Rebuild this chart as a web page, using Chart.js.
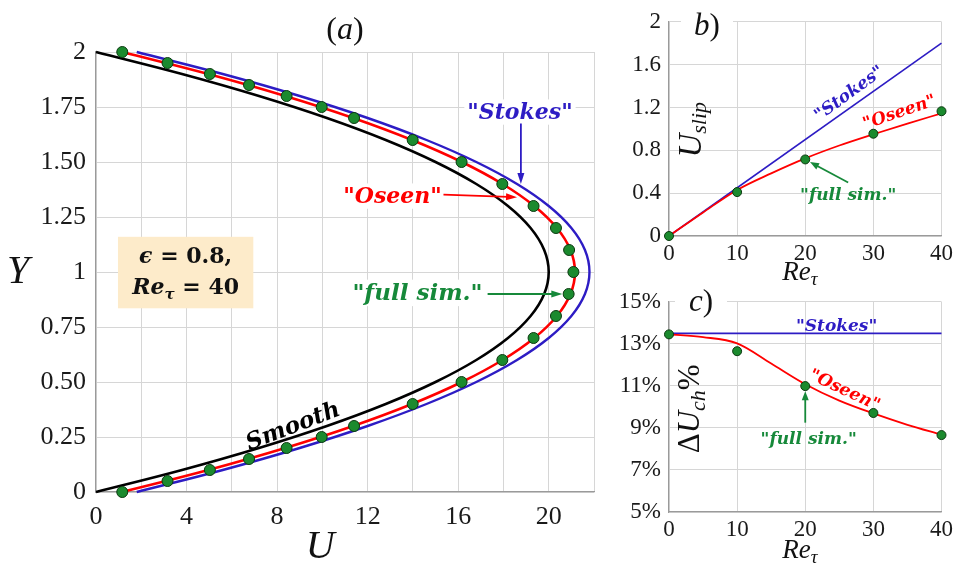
<!DOCTYPE html>
<html>
<head>
<meta charset="utf-8">
<title>Channel flow over a slippery wall: velocity profiles, slip velocity and flow-rate change</title>
<script src="https://cdn.jsdelivr.net/npm/chart.js@4/dist/chart.umd.min.js"></script>
<style>
  html, body { margin: 0; padding: 0; background: #ffffff; }
  #figure { position: relative; width: 957px; height: 566px; overflow: hidden; }
  #figure canvas { position: absolute; }
</style>
</head>
<body>
<div id="figure">
  <canvas id="panelA" width="620" height="566" style="left:0;top:0"></canvas>
  <canvas id="panelB" width="337" height="300" style="left:620px;top:0"></canvas>
  <canvas id="panelC" width="337" height="286" style="left:620px;top:280px"></canvas>
</div>
<script>
// ---------- panel (a): velocity profiles U(Y) across the channel ----------
const yProfile = [0, 0.1, 0.2, 0.3, 0.4, 0.5, 0.6, 0.7, 0.8, 0.9, 1.0,
                  1.1, 1.2, 1.3, 1.4, 1.5, 1.6, 1.7, 1.8, 1.9, 2.0];
const uSmooth  = [0, 3.8, 7.2, 10.2, 12.8, 15.0, 16.8, 18.2, 19.2, 19.8, 20.0,
                  19.8, 19.2, 18.2, 16.8, 15.0, 12.8, 10.2, 7.2, 3.8, 0];
const uOseen   = [1.16, 4.96, 8.36, 11.36, 13.96, 16.16, 17.96, 19.36, 20.36, 20.96, 21.16,
                  20.96, 20.36, 19.36, 17.96, 16.16, 13.96, 11.36, 8.36, 4.96, 1.16];
const uStokes  = [1.8, 5.6, 9.0, 12.0, 14.6, 16.8, 18.6, 20.0, 21.0, 21.6, 21.8,
                  21.6, 21.0, 20.0, 18.6, 16.8, 14.6, 12.0, 9.0, 5.6, 1.8];
const ySim     = [0, 0.05, 0.1, 0.15, 0.2, 0.25, 0.3, 0.4, 0.5, 0.6, 0.7, 0.8, 0.9, 1.0,
                  1.1, 1.2, 1.3, 1.4, 1.5, 1.6, 1.7, 1.75, 1.8, 1.85, 1.9, 1.95, 2.0];
const uSim     = [1.16, 3.16, 5.03, 6.76, 8.42, 9.97, 11.40, 13.99, 16.15, 17.95, 19.33, 20.32, 20.88, 21.09,
                  20.90, 20.32, 19.33, 17.95, 16.15, 13.99, 11.40, 9.97, 8.42, 6.76, 5.03, 3.16, 1.16];
const uTickLabels = ['0', '', '4', '', '8', '', '12', '', '16', '', '20', ''];
const yTickLabels = ['0', '0.25', '0.50', '0.75', '1', '1.25', '1.50', '1.75', '2'];

// ---------- panel (b): slip velocity vs Re_tau ----------
const reSim       = [0, 10, 20, 30, 40];
const slipSim     = [0, 0.41, 0.715, 0.955, 1.165];
const reCurve     = [0, 5, 10, 15, 20, 25, 30, 35, 40];
const slipOseen   = [0, 0.22, 0.43, 0.585, 0.725, 0.845, 0.95, 1.05, 1.145];
const reStokes    = [0, 40];
const slipStokes  = [0, 1.8];
const slipTickLabels = ['0', '0.4', '0.8', '1.2', '1.6', '2'];
const reTickLabels   = ['0', '10', '20', '30', '40'];

// ---------- panel (c): change of flow rate (%) vs Re_tau ----------
const dUSim      = [13.45, 12.65, 10.99, 9.71, 8.66];
const dUOseen    = [13.45, 13.32, 13.02, 12.06, 11.08, 10.3, 9.69, 9.15, 8.68];
const dUStokes   = [13.5, 13.5];
const dUTickLabels = ['5%', '7%', '9%', '11%', '13%', '15%'];

// ---------- styling ----------
const GRID = '#d6d6d6';
const AXIS = '#9a9a9a';
const BLUE = '#2d1cc4';
const RED = '#ff0000';
const GREEN = '#16893a';
const DOT_FILL = '#1b8a2e';
const DOT_EDGE = '#0b3a10';
const TICK_FAMILY = '"Liberation Serif", serif';
const NOTE_FAMILY = '"DejaVu Serif", serif';
const MATH_FAMILY = '"Liberation Serif", serif';

Chart.defaults.font.family = TICK_FAMILY;

const pts = (xs, ys) => xs.map((x, i) => ({ x: x, y: ys[i] }));

// text made of several runs (italic symbol, subscript, upright operator ...)
function richWidth(ctx, runs) {
  let w = 0;
  for (const r of runs) { ctx.font = r.font; w += ctx.measureText(r.t).width; }
  return w;
}
function drawRich(ctx, runs, x, y, angle, color) {
  ctx.save();
  ctx.translate(x, y);
  ctx.rotate((angle || 0) * Math.PI / 180);
  ctx.fillStyle = color || '#000';
  ctx.textBaseline = 'middle';
  ctx.textAlign = 'left';
  let cx = -richWidth(ctx, runs) / 2;
  for (const r of runs) {
    ctx.font = r.font;
    ctx.fillText(r.t, cx, r.dy || 0);
    cx += ctx.measureText(r.t).width;
  }
  ctx.restore();
}
function note(ctx, text, font, color, x, y, angle, pad) {
  ctx.save();
  ctx.translate(x, y);
  ctx.rotate((angle || 0) * Math.PI / 180);
  ctx.font = font;
  const w = ctx.measureText(text).width;
  const h = parseFloat(font.match(/(\d+(\.\d+)?)px/)[1]) * 1.15;
  if (pad !== false) {
    ctx.fillStyle = '#ffffff';
    ctx.fillRect(-w / 2 - 3, -h / 2, w + 6, h);
  }
  ctx.fillStyle = color;
  ctx.textAlign = 'center';
  ctx.textBaseline = 'middle';
  ctx.fillText(text, 0, 1);
  ctx.restore();
}
function arrow(ctx, x1, y1, x2, y2, color, lw, len, half) {
  const a = Math.atan2(y2 - y1, x2 - x1);
  ctx.save();
  ctx.strokeStyle = color;
  ctx.fillStyle = color;
  ctx.lineWidth = lw;
  ctx.beginPath();
  ctx.moveTo(x1, y1);
  ctx.lineTo(x2 - len * 0.8 * Math.cos(a), y2 - len * 0.8 * Math.sin(a));
  ctx.stroke();
  ctx.beginPath();
  ctx.moveTo(x2, y2);
  ctx.lineTo(x2 - len * Math.cos(a) + half * Math.sin(a), y2 - len * Math.sin(a) - half * Math.cos(a));
  ctx.lineTo(x2 - len * Math.cos(a) - half * Math.sin(a), y2 - len * Math.sin(a) + half * Math.cos(a));
  ctx.closePath();
  ctx.fill();
  ctx.restore();
}
function toPx(chart, x, y) {
  return [chart.scales.x.getPixelForValue(x), chart.scales.y.getPixelForValue(y)];
}

function axisOptions(min, max, step, labels, size, pad, fixed, isX) {
  return {
    type: 'linear',
    min: min,
    max: max,
    afterFit: (s) => { if (isX) s.height = fixed; else s.width = fixed; },
    grid: { color: GRID, lineWidth: 1, drawTicks: false },
    border: { color: AXIS, width: 1.2 },
    ticks: {
      stepSize: step,
      autoSkip: false,
      maxRotation: 0,
      padding: pad,
      color: '#1a1a1a',
      font: { family: TICK_FAMILY, size: size },
      callback: (v, i) => labels[i]
    }
  };
}

function baseOptions(padding, xAxis, yAxis) {
  return {
    responsive: false,
    animation: false,
    devicePixelRatio: 1,
    layout: { padding: padding },
    plugins: { legend: { display: false }, tooltip: { enabled: false } },
    scales: { x: xAxis, y: yAxis }
  };
}

function dots(data, r) {
  return {
    data: data, showLine: false, pointRadius: r, pointHoverRadius: r,
    pointBackgroundColor: DOT_FILL, pointBorderColor: DOT_EDGE, pointBorderWidth: 1, clip: false
  };
}
function curve(data, color, width, extra) {
  return Object.assign({
    data: data, showLine: true, borderColor: color, borderWidth: width,
    pointRadius: 0, pointHoverRadius: 0, fill: false, clip: false
  }, extra || {});
}

// ---------- panel (a) ----------
const notesA = {
  id: 'notesA',
  beforeDatasetsDraw(chart) {
    const ctx = chart.ctx;
    // parameter box
    const [bx1, by1] = toPx(chart, 0.97, 1.16);
    const [bx2, by2] = toPx(chart, 6.95, 0.835);
    ctx.fillStyle = '#fdebca';
    ctx.fillRect(bx1, by1, bx2 - bx1, by2 - by1);
    const bf = 'bold 22px ' + NOTE_FAMILY, bi = 'bold italic 22px ' + NOTE_FAMILY;
    const [t1x, t1y] = toPx(chart, 3.96, 1.068);
    drawRich(ctx, [{ t: 'ϵ', font: bi }, { t: ' = 0.8,', font: bf }], t1x, t1y, 0, '#111');
    const [t2x, t2y] = toPx(chart, 3.96, 0.927);
    drawRich(ctx, [{ t: 'Re', font: bi }, { t: 'τ', font: 'bold italic 15px ' + NOTE_FAMILY, dy: 7 },
                   { t: ' = 40', font: bf }], t2x, t2y, 0, '#111');

    const nf = 'bold italic 22px ' + NOTE_FAMILY;
    let p = toPx(chart, 18.73, 1.727); note(ctx, '"Stokes"', nf, BLUE, p[0], p[1], 0);
    p = toPx(chart, 13.1, 1.345);      note(ctx, '"Oseen"', nf, RED, p[0], p[1], 0);
    p = toPx(chart, 14.2, 0.905);      note(ctx, '"full sim."', 'bold italic 23px ' + NOTE_FAMILY, GREEN, p[0], p[1], 0);
    p = toPx(chart, 8.7, 0.3);         note(ctx, 'Smooth', 'bold italic 23px ' + NOTE_FAMILY, '#000', p[0], p[1], -21, false);
  },
  afterDatasetsDraw(chart) {
    const ctx = chart.ctx;
    let a = toPx(chart, 18.77, 1.675), b = toPx(chart, 18.77, 1.40);
    arrow(ctx, a[0], a[1], b[0], b[1], BLUE, 1.8, 11, 3.5);
    a = toPx(chart, 15.35, 1.352); b = toPx(chart, 18.6, 1.34);
    arrow(ctx, a[0], a[1], b[0], b[1], RED, 1.8, 11, 3.5);
    a = toPx(chart, 17.3, 0.9); b = toPx(chart, 20.6, 0.9);
    arrow(ctx, a[0], a[1], b[0], b[1], GREEN, 2, 11, 3.5);
  },
  afterDraw(chart) {
    const ctx = chart.ctx, area = chart.chartArea;
    drawRich(ctx, [{ t: '(', font: '32px ' + MATH_FAMILY }, { t: 'a', font: 'italic 32px ' + MATH_FAMILY },
                   { t: ')', font: '32px ' + MATH_FAMILY }], (area.left + area.right) / 2, 31, 0, '#111');
    drawRich(ctx, [{ t: 'Y', font: 'italic 40px ' + MATH_FAMILY }], area.left - 78, (area.top + area.bottom) / 2, 0, '#111');
    drawRich(ctx, [{ t: 'U', font: 'italic 40px ' + MATH_FAMILY }], chart.scales.x.getPixelForValue(9.9), area.bottom + 55, 0, '#111');
  }
};

new Chart(document.getElementById('panelA'), {
  type: 'scatter',
  data: {
    datasets: [
      dots(pts(uSim, ySim), 5.5),
      curve(pts(uOseen, yProfile), RED, 2.6, { tension: 0.4 }),
      curve(pts(uStokes, yProfile), BLUE, 2.4, { tension: 0.4 }),
      curve(pts(uSmooth, yProfile), '#000', 2.6, { tension: 0.4 })
    ]
  },
  options: baseOptions({ top: 52, right: 26, left: 0, bottom: 0 },
    axisOptions(0, 22, 2, uTickLabels, 26, 10, 74, true),
    axisOptions(0, 2, 0.25, yTickLabels, 26, 10, 96, false)),
  plugins: [notesA]
});

// ---------- panels (b) and (c): shared decorations ----------
function reTitle(chart, y) {
  const x = chart.scales.x.getPixelForValue(19.2);
  drawRich(chart.ctx, [{ t: 'Re', font: 'italic 27px ' + MATH_FAMILY },
                       { t: 'τ', font: 'italic 19px ' + MATH_FAMILY, dy: 7 }], x, y, 0, '#111');
}
function panelLetter(chart, text, x, y) {
  const ctx = chart.ctx;
  ctx.fillStyle = '#ffffff';
  ctx.fillRect(x - 20, y - 16, 52, 30);
  drawRich(ctx, [{ t: text[0], font: 'italic 31px ' + MATH_FAMILY }, { t: text[1], font: '31px ' + MATH_FAMILY }],
           x + 6, y, 0, '#111');
}

const notesB = {
  id: 'notesB',
  beforeDatasetsDraw(chart) {
    const ctx = chart.ctx;
    const nf = 'bold italic 17px ' + NOTE_FAMILY;
    let p = toPx(chart, 26.4, 1.335); note(ctx, '"Stokes"', nf, BLUE, p[0], p[1], -36, false);
    p = toPx(chart, 33.8, 1.16);      note(ctx, '"Oseen"', nf, RED, p[0], p[1], -19, false);
    p = toPx(chart, 26.3, 0.39);      note(ctx, '"full sim."', nf, GREEN, p[0], p[1], 0, false);
    const ax = chart.chartArea.left + 23, ay = (chart.chartArea.top + 108);
    drawRich(ctx, [{ t: 'U', font: 'italic 33px ' + MATH_FAMILY }, { t: 'slip', font: 'italic 22px ' + MATH_FAMILY, dy: 8 }],
             ax, ay, -90, '#111');
  },
  afterDatasetsDraw(chart) {
    const a = toPx(chart, 26.3, 0.50), b = toPx(chart, 20.7, 0.69);
    arrow(chart.ctx, a[0], a[1], b[0], b[1], GREEN, 1.8, 9, 3.5);
  },
  afterDraw(chart) {
    panelLetter(chart, 'b)', chart.chartArea.left + 32, chart.chartArea.top + 5);
    reTitle(chart, chart.chartArea.bottom + 37);
  }
};

new Chart(document.getElementById('panelB'), {
  type: 'scatter',
  data: {
    datasets: [
      dots(pts(reSim, slipSim), 4.5),
      curve(pts(reCurve, slipOseen), RED, 1.8, { cubicInterpolationMode: 'monotone' }),
      curve(pts(reStokes, slipStokes), BLUE, 1.6)
    ]
  },
  options: baseOptions({ top: 17, right: 13, left: 0, bottom: 0 },
    axisOptions(0, 40, 10, reTickLabels, 23, 4, 64, true),
    axisOptions(0, 2, 0.4, slipTickLabels, 23, 8, 49, false)),
  plugins: [notesB]
});

const notesC = {
  id: 'notesC',
  beforeDatasetsDraw(chart) {
    const ctx = chart.ctx;
    const nf = 'bold italic 17px ' + NOTE_FAMILY;
    let p = toPx(chart, 24.6, 13.88); note(ctx, '"Stokes"', nf, BLUE, p[0], p[1], 0, false);
    p = toPx(chart, 25.8, 10.82);     note(ctx, '"Oseen"', nf, RED, p[0], p[1], 25, false);
    p = toPx(chart, 20.5, 8.5);       note(ctx, '"full sim."', nf, GREEN, p[0], p[1], 0, false);
    const ax = chart.chartArea.left + 22, ay = chart.chartArea.top + 107;
    drawRich(ctx, [{ t: 'Δ', font: '31px ' + MATH_FAMILY }, { t: 'U', font: 'italic 31px ' + MATH_FAMILY },
                   { t: 'ch', font: 'italic 22px ' + MATH_FAMILY, dy: 8 }, { t: '%', font: '31px ' + MATH_FAMILY }],
             ax, ay, -90, '#111');
  },
  afterDatasetsDraw(chart) {
    const a = toPx(chart, 20, 9.25), b = toPx(chart, 20, 10.75);
    arrow(chart.ctx, a[0], a[1], b[0], b[1], GREEN, 1.8, 9, 3.5);
  },
  afterDraw(chart) {
    panelLetter(chart, 'c)', chart.chartArea.left + 26, chart.chartArea.top + 1);
    reTitle(chart, chart.chartArea.bottom + 39);
  }
};

new Chart(document.getElementById('panelC'), {
  type: 'scatter',
  data: {
    datasets: [
      dots(pts(reSim, dUSim), 4.5),
      curve(pts(reCurve, dUOseen), RED, 1.8, { cubicInterpolationMode: 'monotone' }),
      curve(pts(reStokes, dUStokes), BLUE, 1.8)
    ]
  },
  options: baseOptions({ top: 15, right: 13, left: 0, bottom: 0 },
    axisOptions(0, 40, 10, reTickLabels, 23, 4, 54, true),
    axisOptions(5, 15, 2, dUTickLabels, 23, 8, 49, false)),
  plugins: [notesC]
});
</script>
</body>
</html>
